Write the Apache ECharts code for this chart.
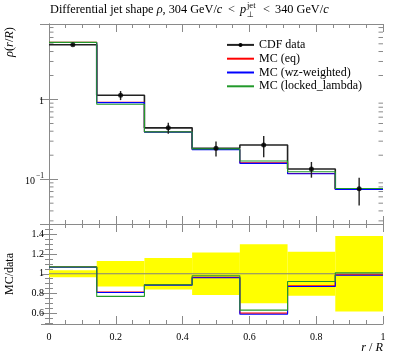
<!DOCTYPE html>
<html><head><meta charset="utf-8">
<script src="https://cdn.jsdelivr.net/npm/echarts@6/dist/echarts.min.js"></script>
<style>html,body{margin:0;padding:0;background:#fff}#c{width:397px;height:358px}</style>
</head><body><div id="c"></div>
<script>
// ---- data ----
const binEdges = [0, 0.142857, 0.285714, 0.428571, 0.571429, 0.714286, 0.857143, 1];
const dataVals = [4.87, 1.13, 0.441, 0.245, 0.268, 0.1345, 0.0756];
const dataErr  = [0.17, 0.147, 0.07, 0.053, 0.08, 0.030, 0.029];
const mcEq     = [5.21, 0.921, 0.392, 0.236, 0.161, 0.118, 0.0748];
const mcWz     = [5.19, 0.915, 0.390, 0.235, 0.158, 0.117, 0.0745];
const mcLocked = [5.21, 0.870, 0.392, 0.240, 0.169, 0.124, 0.0764];
const xTickLabels = ['0', '0.2', '0.4', '0.6', '0.8', '1'];
const logMinorTicks = [0.03,0.04,0.05,0.06,0.07,0.08,0.09,0.2,0.3,0.4,0.5,0.6,0.7,0.8,0.9,2,3,4,5,6,7,8];
const seriesNames = ['CDF data', 'MC (eq)', 'MC (wz-weighted)', 'MC (locked_lambda)'];

const FONT = 'Liberation Serif';
const AX = '#8a8a8a';
const RED = '#ff0000', BLUE = '#0000ff', GREEN = '#22992a';

function steps(vals){ const p = vals.map((v,i)=>[binEdges[i], v]); p.push([binEdges[binEdges.length-1], vals[vals.length-1]]); return p; }
function ratio(vals){ return vals.map((v,i)=>v/dataVals[i]); }
const centers = dataVals.map((v,i)=>(binEdges[i]+binEdges[i+1])/2);

function xAxisDef(grid, pos, labels){
  return {type:'value', gridIndex:grid, position:pos, min:0, max:1, interval:0.2,
    axisLine:{show:true, onZero:false, lineStyle:{color:AX, width:1}},
    axisTick:{show:true, inside:true, length:8, lineStyle:{color:AX}},
    minorTick:{show:true, splitNumber:4, length:4, lineStyle:{color:AX}},
    splitLine:{show:false}, minorSplitLine:{show:false},
    axisLabel:{show:labels, margin:8, fontFamily:FONT, fontSize:10, color:'#000',
      formatter:(v)=>{ const k=Math.round(v/0.2); return xTickLabels[k]; }}};
}
function txt(x, y, text, size, italic, align){
  return {type:'text', x:x, y:y, style:{text:text, font:(italic?'italic ':'')+size+'px "Liberation Serif"', fill:'#000',
    align:align||'left', verticalAlign:'middle', textAlign:align||'left', textVerticalAlign:'middle'}};
}
const RICH = {n:{fontFamily:FONT, fontSize:12.3, fill:'#000'}, i:{fontFamily:FONT, fontStyle:'italic', fontSize:12.3, fill:'#000'}};

const chart = echarts.init(document.getElementById('c'), null, {renderer:'canvas'});
const option = {
  animation:false,
  backgroundColor:'#fff',
  grid:[{left:49, right:14, top:24, height:200},{left:49, right:14, top:224, height:100}],
  xAxis:[xAxisDef(0,'bottom',false), xAxisDef(0,'top',false), xAxisDef(1,'bottom',true), xAxisDef(1,'top',false)],
  yAxis:[
    {type:'log', gridIndex:0, position:'left', min:0.0274, max:8.86, logBase:10,
      axisLine:{show:true, lineStyle:{color:AX}}, axisTick:{show:true, inside:true, length:9, lineStyle:{color:AX}},
      splitLine:{show:false},
      axisLabel:{margin:5, color:'#000', showMinLabel:false, showMaxLabel:false,
        formatter:(v)=>{ if(Math.abs(v-1)<1e-6) return '{n|1}'; if(Math.abs(v-0.1)<1e-7) return '{n|10}{s|−1}'; return ''; },
        rich:{n:{fontFamily:FONT, fontSize:10, color:'#000', lineHeight:14, verticalAlign:'bottom'},
              s:{fontFamily:FONT, fontSize:7.5, color:'#000', lineHeight:14, verticalAlign:'top', padding:[0,0,0,1]}}}},
    {type:'log', gridIndex:0, position:'right', min:0.0274, max:8.86, logBase:10,
      axisLine:{show:true, lineStyle:{color:AX}}, axisTick:{show:true, inside:true, length:9, lineStyle:{color:AX}},
      splitLine:{show:false}, axisLabel:{show:false}},
    {type:'value', gridIndex:1, position:'left', min:0.49, max:1.505, splitNumber:5,
      axisLine:{show:true, lineStyle:{color:AX}}, axisTick:{show:true, inside:true, length:8, lineStyle:{color:AX}},
      minorTick:{show:true, splitNumber:4, length:4, lineStyle:{color:AX}},
      splitLine:{show:false}, minorSplitLine:{show:false},
      axisLabel:{margin:5, fontFamily:FONT, fontSize:10, color:'#000', showMinLabel:false, showMaxLabel:false}},
    {type:'value', gridIndex:1, position:'right', min:0.49, max:1.505, splitNumber:5,
      axisLine:{show:true, lineStyle:{color:AX}}, axisTick:{show:true, inside:true, length:8, lineStyle:{color:AX}},
      minorTick:{show:true, splitNumber:4, length:4, lineStyle:{color:AX}},
      splitLine:{show:false}, minorSplitLine:{show:false}, axisLabel:{show:false}}
  ],
  legend:{data:[
      {name:'CDF data'},
      {name:'MC (eq)', itemStyle:{opacity:0}},
      {name:'MC (wz-weighted)', itemStyle:{opacity:0}},
      {name:'MC (locked_lambda)', itemStyle:{opacity:0}}],
    orient:'vertical', left:226, top:38, padding:0, itemWidth:27, itemHeight:5, itemGap:0,
    selectedMode:false, textStyle:{fontFamily:FONT, fontSize:12, lineHeight:13.8, color:'#000'}},
  graphic:[
    {type:'text', x:50, y:10, style:{text:'{n|Differential jet shape }{i|ρ}{n|, 304 GeV/}{i|c}', align:'left', verticalAlign:'middle', textAlign:'left', textVerticalAlign:'middle', rich:RICH}},
    txt(228, 10, '<', 12.3, false),
    txt(240, 10, 'p', 12.3, true),
    txt(247, 6, 'jet', 8.5, false),
    {type:'text', x:247, y:15, style:{text:'⊥', font:'8px "DejaVu Sans"', fill:'#000', align:'left', verticalAlign:'middle', textAlign:'left', textVerticalAlign:'middle'}},
    txt(263, 10, '<', 12.3, false),
    {type:'text', x:275, y:10, style:{text:'{n|340 GeV/}{i|c}', align:'left', verticalAlign:'middle', textAlign:'left', textVerticalAlign:'middle', rich:RICH}},
    {type:'text', x:10, y:42, rotation:Math.PI/2, style:{text:'{i|ρ}{n|(}{i|r}{n|/}{i|R}{n|)}', align:'center', verticalAlign:'middle', textAlign:'center', textVerticalAlign:'middle', rich:RICH}},
    {type:'text', x:10, y:274, rotation:Math.PI/2, style:{text:'MC/data', font:'12px "Liberation Serif"', fill:'#000', align:'center', verticalAlign:'middle', textAlign:'center', textVerticalAlign:'middle'}},
    {type:'text', x:383, y:348, style:{text:'{i|r}{n| / }{i|R}', align:'right', verticalAlign:'middle', textAlign:'right', textVerticalAlign:'middle', rich:RICH}}
  ],
  series:[
    {type:'custom', xAxisIndex:0, yAxisIndex:0, silent:true, clip:false, z:1,
      data:logMinorTicks.map(v=>[0,v]),
      renderItem:(p,api)=>{ const v=api.value(1); const a=api.coord([0,v]); const b=api.coord([1,v]);
        return {type:'group', children:[
          {type:'line', shape:{x1:a[0], y1:a[1], x2:a[0]+4.5, y2:a[1]}, style:{stroke:AX, lineWidth:1}},
          {type:'line', shape:{x1:b[0]-4.5, y1:b[1], x2:b[0], y2:b[1]}, style:{stroke:AX, lineWidth:1}}]}; }},
    {type:'custom', xAxisIndex:2, yAxisIndex:2, silent:true, z:1,
      data:dataVals.map((v,i)=>[i, 1-dataErr[i]/v, 1+dataErr[i]/v]),
      renderItem:(p,api)=>{ const i=api.value(0); const a=api.coord([binEdges[i], api.value(2)]); const b=api.coord([binEdges[i+1], api.value(1)]);
        return {type:'rect', shape:{x:a[0], y:a[1], width:b[0]-a[0], height:b[1]-a[1]}, style:{fill:'#ffff00'}}; }},
    {type:'line', xAxisIndex:2, yAxisIndex:2, silent:true, z:2, data:[[0,1],[1,1]], symbol:'none', lineStyle:{color:'#808080', width:1}},
    {name:'CDF data', type:'line', xAxisIndex:0, yAxisIndex:0, step:'end', data:steps(dataVals), symbol:'circle', symbolSize:4, showSymbol:false,
      itemStyle:{color:'#000'}, lineStyle:{color:'#222', width:1.6}, z:3},
    {name:'MC (eq)', type:'line', xAxisIndex:0, yAxisIndex:0, step:'end', data:steps(mcEq), symbol:'none', itemStyle:{color:RED}, lineStyle:{color:RED, width:1.1}, z:4},
    {name:'MC (wz-weighted)', type:'line', xAxisIndex:0, yAxisIndex:0, step:'end', data:steps(mcWz), symbol:'none', itemStyle:{color:BLUE}, lineStyle:{color:BLUE, width:1.1}, z:4},
    {name:'MC (locked_lambda)', type:'line', xAxisIndex:0, yAxisIndex:0, step:'end', data:steps(mcLocked), symbol:'none', itemStyle:{color:GREEN}, lineStyle:{color:GREEN, width:1.1}, z:4},
    {type:'custom', xAxisIndex:0, yAxisIndex:0, silent:true, z:6,
      data:dataVals.map((v,i)=>[centers[i], v-dataErr[i], v+dataErr[i]]),
      renderItem:(p,api)=>{ const a=api.coord([api.value(0), api.value(1)]); const b=api.coord([api.value(0), api.value(2)]);
        return {type:'line', shape:{x1:a[0], y1:a[1], x2:b[0], y2:b[1]}, style:{stroke:'#222', lineWidth:1.4}}; }},
    {type:'scatter', xAxisIndex:0, yAxisIndex:0, silent:true, z:7, symbol:'circle', symbolSize:5,
      data:dataVals.map((v,i)=>[centers[i], v]), itemStyle:{color:'#000'}},
    {name:'MC (eq)', type:'line', xAxisIndex:2, yAxisIndex:2, step:'end', data:steps(ratio(mcEq)), symbol:'none', lineStyle:{color:RED, width:1.1}, itemStyle:{color:RED}, z:4},
    {name:'MC (wz-weighted)', type:'line', xAxisIndex:2, yAxisIndex:2, step:'end', data:steps(ratio(mcWz)), symbol:'none', lineStyle:{color:BLUE, width:1.1}, itemStyle:{color:BLUE}, z:4},
    {name:'MC (locked_lambda)', type:'line', xAxisIndex:2, yAxisIndex:2, step:'end', data:steps(ratio(mcLocked)), symbol:'none', lineStyle:{color:GREEN, width:1.1}, itemStyle:{color:GREEN}, z:4}
  ]
};
chart.setOption(option);
</script></body></html>
